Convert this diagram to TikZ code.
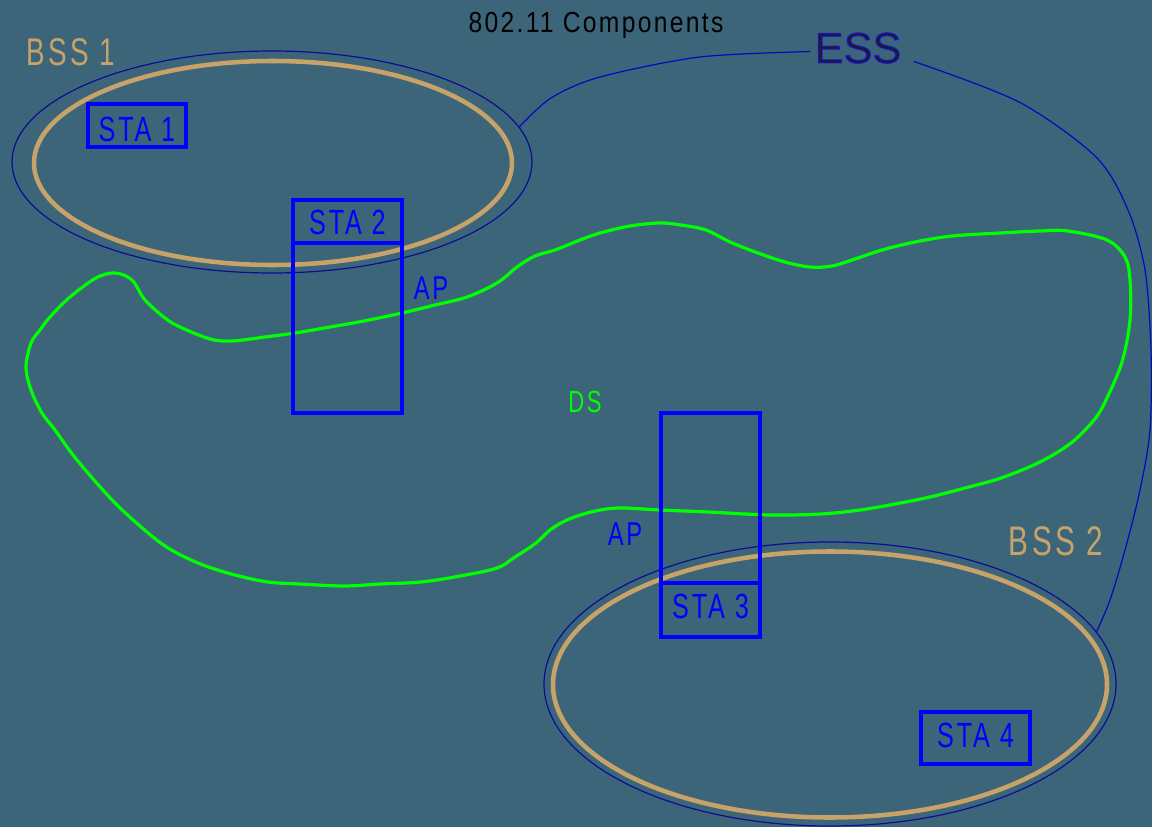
\documentclass[tikz,border=0pt]{standalone}
\usepackage{fontspec}
\usetikzlibrary{shapes.geometric}
\setmainfont{Liberation Sans}
\newfontfamily\labfont[FakeStretch=0.72,LetterSpace=8]{Liberation Sans}
\newfontfamily\titfont[FakeStretch=0.85,LetterSpace=8]{Liberation Sans}
\definecolor{bgc}{RGB}{61,101,122}
\definecolor{tanc}{RGB}{200,163,105}
\definecolor{navyc}{RGB}{12,12,150}
\definecolor{bluec}{RGB}{0,0,255}
\definecolor{greenc}{RGB}{0,255,0}
\definecolor{essc}{RGB}{28,26,60}
\newcommand{\outlinedtext}[1]{\special{pdf:literal direct 2 Tr 0.55 w 0.1 0.1 0.95 RG}#1\special{pdf:literal direct 0 Tr}}
\tikzset{
  box/.style={draw=bluec,line width=2.3pt,rectangle,inner sep=0pt,outer sep=0pt},
  bssout/.style={draw=navyc,line width=0.9pt,ellipse,inner sep=0pt,outer sep=0pt},
  bsstan/.style={draw=tanc,line width=3.4pt,ellipse,inner sep=0pt,outer sep=0pt},
  lab/.style={anchor=base,inner sep=0pt,font=\labfont\fontsize{26.25pt}{30pt}\selectfont,text=bluec},
  bsslab/.style={anchor=base,inner sep=0pt,text=tanc},
  dsline/.style={draw=greenc,line width=2.4pt},
  essline/.style={draw=navyc!60!bluec,line width=0.9pt}
}
\begin{document}
\begin{tikzpicture}[x=0.75pt,y=-0.75pt]
\fill[bgc] (0,0) rectangle (1152,827);
\useasboundingbox (0,0) rectangle (1152,827);
% green DS region
\draw[dsline] plot[smooth cycle,tension=0.55] coordinates {
(115,273) (132,280) (145,300) (165,318) (180,327) (210,339) (232,341) (265,337)
(295,333) (330,327) (364,321) (402,313) (435,305) (467,297) (497,283) (517,267)
(535,256) (555,250) (580,240) (600,233) (630,226) (660,223) (681,225) (706,230)
(730,242) (758,253) (785,262) (810,267) (832,266) (855,259) (882,250) (915,242)
(952,236) (1000,233) (1040,231) (1068,231) (1107,240) (1125,257) (1130,280)
(1130,320) (1122,362) (1106,400) (1094,420) (1071,443) (1040,462) (1001,478)
(965,488) (930,497) (895,504) (860,510) (821,514) (770,515) (708,512) (660,510)
(618,508) (591,512) (567,520) (550,530) (536,543) (515,557) (497,568) (460,576)
(421,582) (380,584) (344,586) (300,584) (268,582) (235,575) (203,565) (175,552)
(153,537) (115,503) (77,460) (55,430) (42,413) (31,390) (26,367) (31,343)
(40,330) (50,317) (70,297) (96,278)};
% BSS ellipses
\node[bssout,minimum width=390pt,minimum height=166.5pt] (bss1) at (272,162) {};
\node[bsstan,minimum width=358.5pt,minimum height=153pt] (bss1t) at (273,163) {};
\node[bssout,minimum width=429pt,minimum height=213pt] (bss2) at (830,684) {};
\node[bsstan,minimum width=415.5pt,minimum height=199.5pt] (bss2t) at (830,684.5) {};
% boxes
\node[box,minimum width=73.5pt,minimum height=32.25pt] (sta1) at (137,125.5) {};
\node[box,minimum width=81.75pt,minimum height=32.25pt] (sta2) at (347.5,221.5) {};
\node[box,minimum width=81.75pt,minimum height=127.5pt] (ap1) at (347.5,328) {};
\node[box,minimum width=74.25pt,minimum height=127.5pt] (ap2) at (710.5,498) {};
\node[box,minimum width=74.25pt,minimum height=40.5pt] (sta3) at (710.5,610) {};
\node[box,minimum width=81.75pt,minimum height=39pt] (sta4) at (975.5,738) {};
% labels
\node[lab] (t1) at (137,142) {STA 1};
\node[lab] (t2) at (347.5,235) {STA 2};
\node[lab] (t3) at (710.5,618) {STA 3};
\node[lab] (t4) at (975.5,747) {STA 4};
\node[lab,font=\labfont\fontsize{24.75pt}{28pt}\selectfont] (apl1) at (431,299) {AP};
\node[lab,font=\labfont\fontsize{24.75pt}{28pt}\selectfont] (apl2) at (625,545) {AP};
\node[lab,text=greenc,font=\labfont\fontsize{23pt}{26pt}\selectfont] (dsl) at (585,412) {DS};
\node[bsslab,font=\labfont\fontsize{29pt}{32pt}\selectfont] (bss1l) at (71,66) {BSS 1};
\node[bsslab,font=\labfont\fontsize{31pt}{34pt}\selectfont] (bss2l) at (1056,555) {BSS 2};
\node[anchor=base,inner sep=0pt,font=\titfont\fontsize{21.75pt}{25pt}\selectfont] (title) at (596,33) {802.11 Components};
\node[anchor=base,inner sep=0pt,text=essc,font=\fontsize{32.5pt}{36pt}\selectfont] (ess) at (858,63) {\outlinedtext{ESS}};
% ESS connector
\coordinate (essL) at ([xshift=-3pt,yshift=-2.6pt]ess.west);
\coordinate (essR) at ([xshift=9pt,yshift=-10pt]ess.east);
\draw[essline] plot[smooth] coordinates {(bss1.8) (551,98) (600,77) (700,57) (essL)};
\draw[essline] plot[smooth] coordinates {(essR) (1019,102) (1096,157) (1128,210) (1145,270) (1151,350) (1150,430) (1140,490) (1125,550) (1110,600) (bss2.11)};
\end{tikzpicture}
\end{document}
